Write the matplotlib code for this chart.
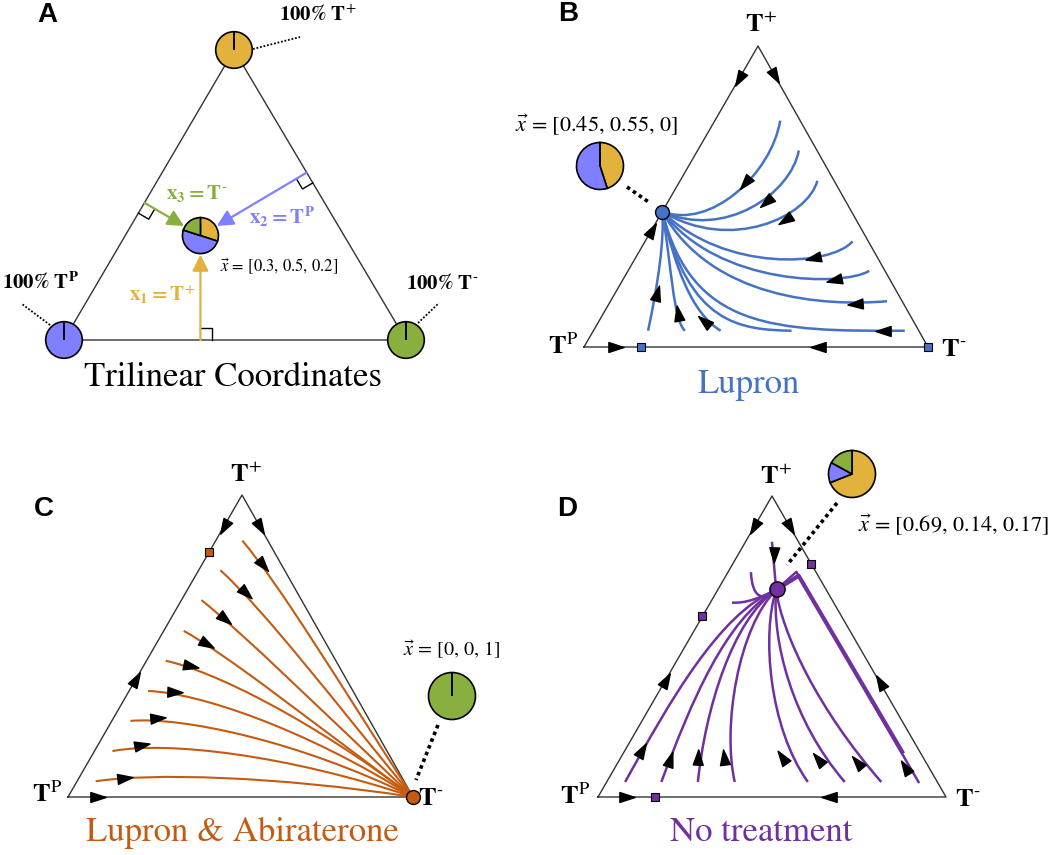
import numpy as np
import matplotlib
matplotlib.use('Agg')
import matplotlib.pyplot as plt
from matplotlib.path import Path
from matplotlib.patches import PathPatch
from matplotlib.markers import MarkerStyle
from matplotlib.transforms import Affine2D

plt.rcParams['mathtext.fontset'] = 'stix'
plt.rcParams['font.family'] = 'STIXGeneral'

ORANGE = '#E2B23C'
BLUE = '#7F7FFF'
GREEN = '#89B03E'
LUPRON = '#4472C4'
ABI = '#C55A11'
NOTREAT = '#7030A0'

# corners of each simplex in figure pixels: 100% TP, 100% T-, 100% T+
corners = {
    'A': [(64, 515), (406, 515), (234, 805)],
    'B': [(584, 508), (928, 508), (758, 809)],
    'C': [(68, 58), (413, 58), (242, 360)],
    'D': [(598, 58), (946, 58), (772, 359)],
}

# compositions [T+, TP, T-]
comp_a = [0.3, 0.5, 0.2]
eq_b = [0.45, 0.55, 0]
eq_c = [0, 0, 1]
eq_d = [0.69, 0.14, 0.17]

# trajectories, cubic bezier control points as (T+, T-) fractions
lupron_paths = [
    [(0.752, 0.190), (0.577, 0.253), (0.389, 0.173), (0.45, 0.0)],
    [(0.653, 0.294), (0.511, 0.344), (0.356, 0.229), (0.45, 0.0)],
    [(0.552, 0.399), (0.434, 0.432), (0.312, 0.270), (0.45, 0.0)],
    [(0.351, 0.603), (0.268, 0.584), (0.246, 0.285), (0.45, 0.0)],
    [(0.253, 0.701), (0.201, 0.656), (0.201, 0.288), (0.45, 0.0)],
    [(0.152, 0.804), (0.135, 0.632), (0.157, 0.291), (0.45, 0.0)],
    [(0.054, 0.905), (0.052, 0.528), (0.058, 0.283), (0.45, 0.0)],
    [(0.054, 0.576), (0.058, 0.428), (0.070, 0.270), (0.45, 0.0)],
    [(0.054, 0.370), (0.113, 0.255), (0.268, 0.129), (0.45, 0.0)],
    [(0.054, 0.266), (0.091, 0.213), (0.268, 0.119), (0.45, 0.0)],
    [(0.054, 0.159), (0.212, 0.108), (0.356, 0.054), (0.45, 0.0)],
]
lupron_arrows = [
    (0.89, 0.0, -120), (0.90, 0.10, -60), (0.39, 0.0, 60), (0.0, 0.094, 0), (0.0, 0.68, 180),
    (0.546, 0.191, -130), (0.483, 0.285, -140), (0.423, 0.371, -148),
    (0.295, 0.517, -168), (0.223, 0.614, -168), (0.144, 0.716, -176), (0.052, 0.843, 180),
    (0.085, 0.305, 140), (0.113, 0.216, 100), (0.181, 0.120, 75),
]
lupron_unstable = [(0.0, 0.167), (0.0, 1.0)]

abi_paths = [
    [(0.849, 0.077), (0.703, 0.259), (0.384, 0.589), (0.0, 1.0)],
    [(0.751, 0.063), (0.612, 0.265), (0.337, 0.588), (0.0, 1.0)],
    [(0.652, 0.058), (0.542, 0.234), (0.296, 0.578), (0.0, 1.0)],
    [(0.550, 0.058), (0.474, 0.218), (0.254, 0.574), (0.0, 1.0)],
    [(0.451, 0.056), (0.419, 0.205), (0.260, 0.570), (0.0, 1.0)],
    [(0.351, 0.055), (0.346, 0.197), (0.230, 0.567), (0.0, 1.0)],
    [(0.252, 0.054), (0.266, 0.191), (0.190, 0.565), (0.0, 1.0)],
    [(0.152, 0.052), (0.186, 0.191), (0.140, 0.565), (0.0, 1.0)],
    [(0.052, 0.054), (0.080, 0.200), (0.070, 0.566), (0.0, 1.0)],
]
abi_arrows = [
    (0.895, 0.0, -120), (0.895, 0.105, -60), (0.392, 0.0, 60), (0.0, 0.087, 0),
    (0.768, 0.178, -50), (0.674, 0.175, -43), (0.591, 0.156, -39), (0.508, 0.147, -29),
    (0.433, 0.139, -12), (0.348, 0.134, -2), (0.260, 0.130, 5), (0.171, 0.129, 11), (0.064, 0.132, 7),
]
abi_unstable = [(0.81, 0.0)]

notreat_paths = [
    [(0.05, 0.053), (0.310, 0.048), (0.610, 0.042), (0.688, 0.168)],
    [(0.05, 0.157), (0.322, 0.109), (0.588, 0.072), (0.688, 0.168)],
    [(0.05, 0.262), (0.288, 0.164), (0.588, 0.091), (0.688, 0.168)],
    [(0.05, 0.368), (0.233, 0.240), (0.565, 0.121), (0.688, 0.168)],
    [(0.05, 0.578), (0.233, 0.374), (0.543, 0.199), (0.688, 0.168)],
    [(0.05, 0.684), (0.255, 0.429), (0.521, 0.239), (0.688, 0.168)],
    [(0.05, 0.789), (0.288, 0.490), (0.543, 0.257), (0.688, 0.168)],
    [(0.848, 0.076), (0.795, 0.107), (0.741, 0.137), (0.688, 0.168)],
    [(0.747, 0.066), (0.662, 0.112), (0.648, 0.148), (0.688, 0.168)],
    [(0.646, 0.062), (0.642, 0.102), (0.662, 0.135), (0.688, 0.168)],
]
# trajectories hugging the T+/T- edge: start, turning point, stable state
notreat_ridge = [
    [(0.05, 0.896), (0.748, 0.196), (0.688, 0.168)],
    [(0.150, 0.799), (0.735, 0.209), (0.688, 0.168)],
]
notreat_arrows = [
    (0.898, 0.0, -120), (0.898, 0.102, -60), (0.388, 0.0, 60), (0.382, 0.618, 120),
    (0.0, 0.083, 0), (0.0, 0.663, 180),
    (0.155, 0.049, 60), (0.127, 0.144, 72), (0.133, 0.221, 88), (0.133, 0.296, 97),
    (0.133, 0.462, 125), (0.127, 0.570, 130), (0.116, 0.686, 130), (0.100, 0.833, 122),
    (0.804, 0.103, -92),
]
notreat_unstable = [(0.6, 0.0), (0.773, 0.227), (0.0, 0.165)]

SUP = {'T+': r'$\mathbf{T}^{+}$', 'TP': r'$\mathbf{T}^{\mathrm{P}}$', 'T-': '$\\mathbf{T}^{\u2010}$'}

head = Path([(1, 0), (-1, 0.65), (-1, -0.65), (1, 0)],
            [Path.MOVETO, Path.LINETO, Path.LINETO, Path.CLOSEPOLY])

fig = plt.figure(figsize=(10.5, 8.55), dpi=100)
ax = fig.add_axes([0, 0, 1, 1])


def simplex(key):
    (bx, by), (rx, ry), (tx, ty) = corners[key]
    return Affine2D.from_values(tx - bx, ty - by, rx - bx, ry - by, bx, by)


def outline(tr):
    ax.plot([0, 0, 1, 0], [0, 1, 0, 0], color='#333333', lw=1.0, transform=tr, zorder=2)


def flows(tr, paths, color, lw):
    for p in paths:
        codes = [Path.MOVETO] + [Path.CURVE4] * (len(p) - 1)
        ax.add_patch(PathPatch(Path(p, codes), transform=tr, fill=False, ec=color, lw=lw, zorder=3))


def heads(tr, lst):
    for x1, x3, ang in lst:
        m = MarkerStyle(head, transform=Affine2D().rotate_deg(ang))
        ax.plot([x1], [x3], marker=m, ms=11, color='black', ls='none', transform=tr, zorder=6)


def pie(vals, center, r, lw=1.2):
    wedges, _ = ax.pie(vals, colors=[ORANGE, BLUE, GREEN], center=center, radius=r, startangle=90,
                       counterclock=False, frame=True,
                       wedgeprops=dict(edgecolor='black', linewidth=lw, zorder=8))
    # empty slices show as a radial line; keep them above the full slices
    for w, v in zip(wedges, vals):
        if v == 0:
            w.set_zorder(9)


def dots(p0, p1, lw=2.6):
    ax.plot([p0[0], p1[0]], [p0[1], p1[1]], color='black', lw=lw, ls=(0, (1, 1)), zorder=2)


def vertex_labels(pos):
    for k, (x, y) in pos.items():
        ax.text(x, y, SUP[k], fontsize=19, ha='center', va='center')


# ---- A: trilinear coordinates
tra = simplex('A')
outline(tra + ax.transData)
for vals, c in zip([[0, 1, 0], [0, 0, 1], [1, 0, 0]], corners['A']):
    pie(vals, c, 18.3)
P = tra.transform([0.36, 0.22])
pie(comp_a, P, 18)
bl, br, top = [np.array(c, float) for c in corners['A']]
for e0, e1, col in [(bl, br, ORANGE), (top, br, BLUE), (top, bl, GREEN)]:
    d = (e1 - e0) / np.linalg.norm(e1 - e0)
    foot = e0 + np.dot(P - e0, d) * d
    n = (P - foot) / np.linalg.norm(P - foot)
    end = P - n * 19
    ax.annotate('', xy=end, xytext=foot,
                arrowprops=dict(arrowstyle='-|>,head_length=0.7,head_width=0.35', color=col,
                                lw=1.6, shrinkA=0, shrinkB=0, mutation_scale=14))
    s = 12
    sq = np.array([foot + s * d, foot + s * d + s * n, foot + s * n])
    ax.plot(sq[:, 0], sq[:, 1], color='black', lw=1.0)
ax.text(162, 560, r'$\mathbf{x_1 = T}^{+}$', color=ORANGE, fontsize=15, ha='center', va='center')
ax.text(282, 638, r'$\mathbf{x_2 = T}^{\mathbf{P}}$', color=BLUE, fontsize=15, ha='center', va='center')
ax.text(197, 662, '$\\mathbf{x_3 = T}^{\u2010}$', color=GREEN, fontsize=15, ha='center', va='center')
ax.text(279, 588, r'$\vec{x}$ = [0.3, 0.5, 0.2]', fontsize=12, ha='center', va='center')
ax.text(318, 840, r'$\mathbf{100\%\ T}^{+}$', fontsize=15, ha='center', va='center')
ax.text(40, 572, r'$\mathbf{100\%\ T}^{\mathbf{P}}$', fontsize=15, ha='center', va='center')
ax.text(442, 571, '$\\mathbf{100\\%\\ T}^{\u2010}$', fontsize=15, ha='center', va='center')
dots((253, 806), (300, 818), lw=1.3)
dots((50, 530), (22, 551), lw=1.3)
dots((418, 532), (439, 552), lw=1.3)
ax.text(233, 477, 'Trilinear Coordinates', fontsize=25, ha='center', va='center')

# ---- B: Lupron
trb = simplex('B') + ax.transData
outline(trb)
flows(trb, lupron_paths, LUPRON, 1.8)
heads(trb, lupron_arrows)
for x1, x3 in lupron_unstable:
    ax.plot([x1], [x3], 's', ms=5.5, mfc=LUPRON, mec='black', mew=0.8, transform=trb, zorder=7)
ax.plot([eq_b[0]], [eq_b[2]], 'o', ms=10, mfc=LUPRON, mec='black', mew=1, transform=trb, zorder=7)
pie(eq_b, (600, 689), 23.5)
dots((627, 668), (650, 652))
ax.text(597, 730, r'$\vec{x}$ = [0.45, 0.55, 0]', fontsize=16, ha='center', va='center')
vertex_labels({'T+': (761, 829), 'TP': (563, 508), 'T-': (954, 505)})
ax.text(749, 470, 'Lupron', color=LUPRON, fontsize=25, ha='center', va='center')

# ---- C: Lupron & Abiraterone
trc = simplex('C') + ax.transData
outline(trc)
flows(trc, abi_paths, ABI, 1.5)
heads(trc, abi_arrows)
for x1, x3 in abi_unstable:
    ax.plot([x1], [x3], 's', ms=5.5, mfc=ABI, mec='black', mew=0.8, transform=trc, zorder=7)
ax.plot([eq_c[0]], [eq_c[2]], 'o', ms=10, mfc=ABI, mec='black', mew=1, transform=trc, zorder=7)
pie(eq_c, (452, 159), 23.5)
dots((438, 130), (416, 75))
ax.text(452, 205, r'$\vec{x}$ = [0, 0, 1]', fontsize=14.5, ha='center', va='center')
vertex_labels({'T+': (246, 379), 'TP': (47, 60), 'T-': (431, 56)})
ax.text(242, 22, 'Lupron & Abiraterone', color=ABI, fontsize=25, ha='center', va='center')

# ---- D: no treatment
trd = simplex('D') + ax.transData
outline(trd)
flows(trd, notreat_paths, NOTREAT, 1.8)
for path, lw in zip(notreat_ridge, [1.8, 3.0]):
    xs, ys = zip(*path)
    ax.plot(xs, ys, color=NOTREAT, lw=lw, transform=trd, zorder=3, solid_joinstyle='round')
heads(trd, notreat_arrows)
for x1, x3 in notreat_unstable:
    ax.plot([x1], [x3], 's', ms=5.5, mfc=NOTREAT, mec='black', mew=0.8, transform=trd, zorder=7)
ax.plot([eq_d[0]], [eq_d[2]], 'o', ms=11, mfc=NOTREAT, mec='black', mew=1, transform=trd, zorder=7)
pie(eq_d, (852, 381), 23.5)
dots((837, 352), (787, 290))
ax.text(953, 330, r'$\vec{x}$ = [0.69, 0.14, 0.17]', fontsize=16, ha='center', va='center')
vertex_labels({'T+': (776, 377), 'TP': (575, 58), 'T-': (968, 55)})
ax.text(761, 22, 'No treatment', color=NOTREAT, fontsize=25, ha='center', va='center')

for letter, x, y in [('A', 47, 840), ('B', 568, 841), ('C', 44, 346), ('D', 567, 346)]:
    ax.text(x, y, letter, fontsize=20, fontweight='bold', family='Liberation Sans',
            ha='center', va='center')

ax.set_xlim(0, 1050)
ax.set_ylim(0, 855)
ax.axis('off')
fig.savefig('out.png', dpi=100)
